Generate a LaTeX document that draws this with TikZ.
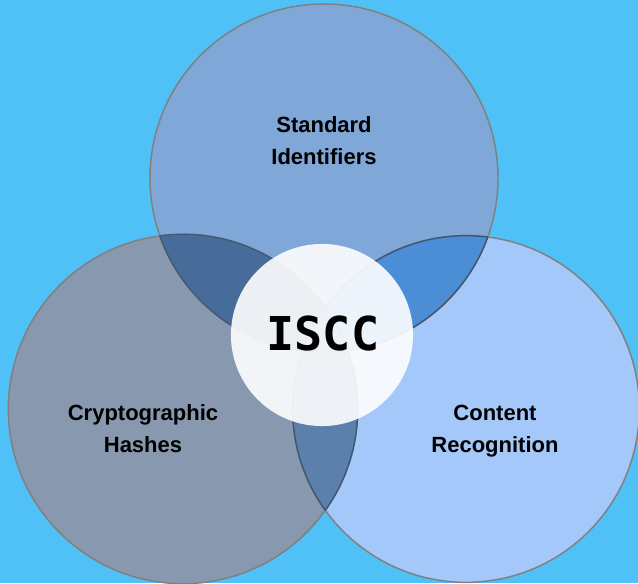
\documentclass[tikz,border=0pt]{standalone}
\usepackage{fontspec}
\setmainfont{Liberation Sans}
\setmonofont{DejaVu Sans Mono}
\usetikzlibrary{positioning}

\definecolor{bgblue}{HTML}{4FC1F6}
\definecolor{topfill}{HTML}{7FA7D8}
\definecolor{leftfill}{HTML}{8898AF}
\definecolor{rightfill}{HTML}{A3C8F9}
\definecolor{tlfill}{HTML}{476C9A}
\definecolor{trfill}{HTML}{4B8ED6}
\definecolor{lrfill}{HTML}{5B80AB}
\definecolor{outerline}{HTML}{808080}
\definecolor{innerline}{HTML}{3E5878}

\tikzset{
  ring/.style={draw=outerline, line width=1.1pt},
  innerring/.style={draw=innerline, line width=1.1pt},
  setlabel/.style={font=\bfseries\fontsize{16.5}{24}\selectfont, align=center, text=black},
}

\begin{document}
\begin{tikzpicture}[x=0.75pt, y=-0.75pt]
\fill[bgblue] (0,0) rectangle (638,583);
\useasboundingbox (0,0) rectangle (638,583);

% the three sets
\fill[topfill] (324,178) circle (130.5pt);
\fill[leftfill] (183,409) circle (131pt);
\fill[rightfill] (466,409) circle (130pt);

% pairwise overlaps
\begin{scope}
  \clip (324,178) circle (130.5pt);
  \fill[tlfill] (183,409) circle (131pt);
  \fill[trfill] (466,409) circle (130pt);
\end{scope}
\begin{scope}
  \clip (183,409) circle (131pt);
  \fill[lrfill] (466,409) circle (130pt);
\end{scope}

% outlines
\draw[ring] (324,178) circle (130.5pt);
\draw[ring] (183,409) circle (131pt);
\draw[ring] (466,409) circle (130pt);
\begin{scope}
  \clip (324,178) circle (130.5pt);
  \draw[innerring] (183,409) circle (131pt);
  \draw[innerring] (466,409) circle (130pt);
\end{scope}
\begin{scope}
  \clip (183,409) circle (131pt);
  \draw[innerring] (324,178) circle (130.5pt);
  \draw[innerring] (466,409) circle (130pt);
\end{scope}
\begin{scope}
  \clip (466,409) circle (130pt);
  \draw[innerring] (324,178) circle (130.5pt);
  \draw[innerring] (183,409) circle (131pt);
\end{scope}

% core
\fill[white, fill opacity=0.9] (322,335) circle (68.3pt);

\node[setlabel] (standard) at (324,141) {Standard\\Identifiers};
\node[setlabel] (crypto) at (143,429) {Cryptographic\\Hashes};
\node[setlabel] (content) at (495,431) {Content\\Recognition};
\node[font=\ttfamily\bfseries\fontsize{35}{35}\selectfont, text=black] (iscc) at (323,334) {ISCC};

\end{tikzpicture}
\end{document}
